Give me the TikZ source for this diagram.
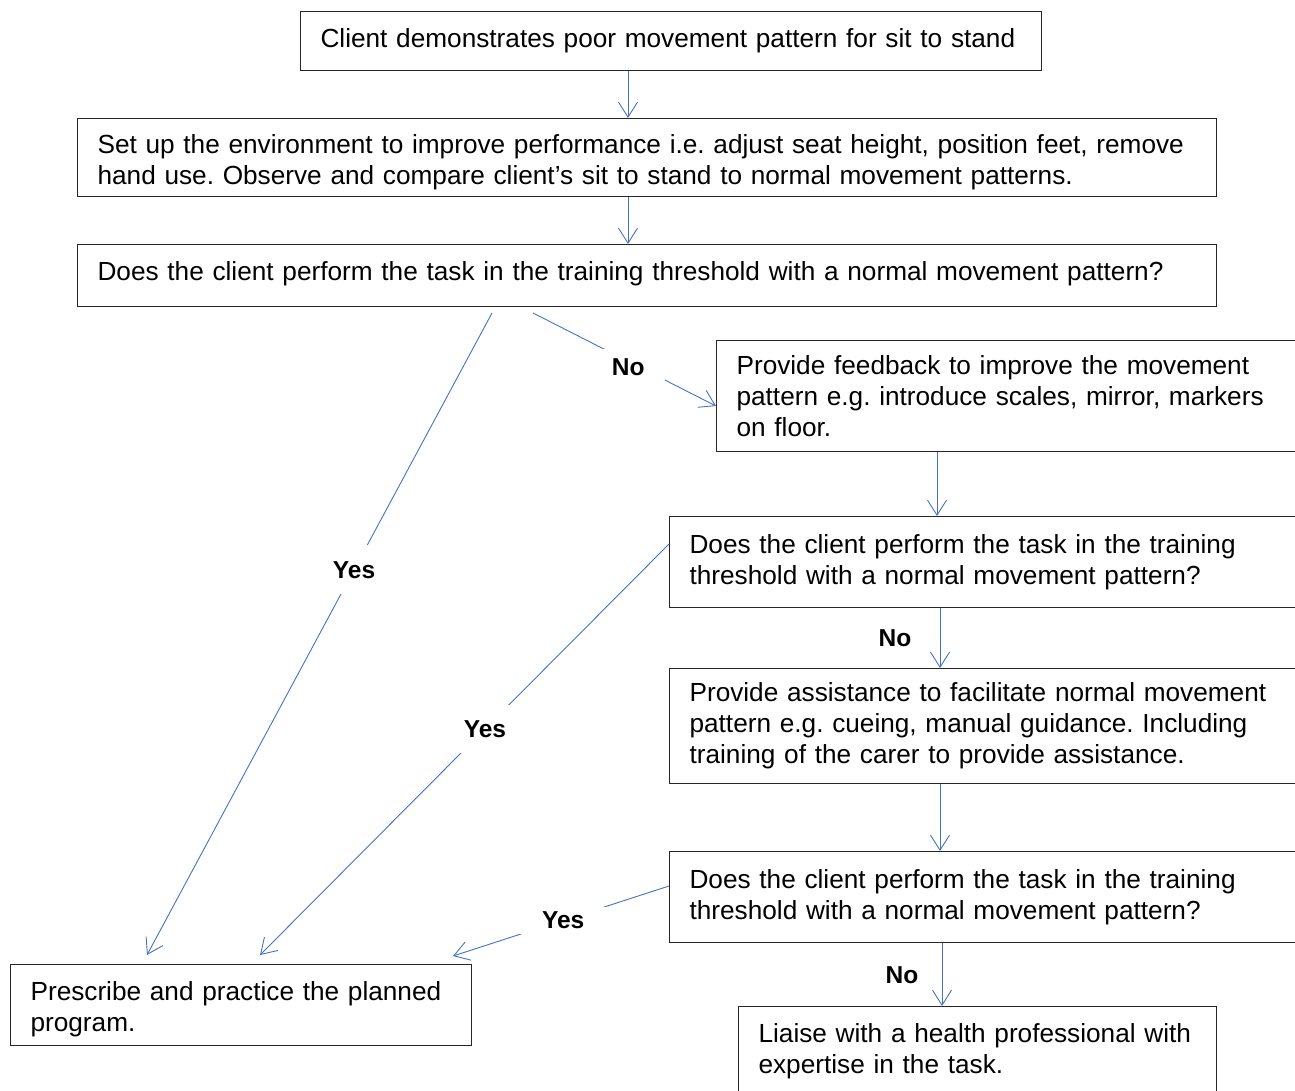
\documentclass[tikz,border=0pt]{standalone}
\usepackage{fontspec}
\setmainfont{Liberation Sans}
\usetikzlibrary{arrows.meta}
\definecolor{linkblue}{RGB}{68,114,196}
\frenchspacing
\begin{document}
\begin{tikzpicture}[x=1pt,y=-1pt,
  box/.style={draw=black!85, line width=1.1pt, anchor=north west, align=left,
    inner xsep=20pt, inner ysep=0pt, font=\fontsize{26.2}{31}\selectfont\frenchspacing},
  conn/.style={draw=linkblue, line width=0.9pt,
    -{Straight Barb[length=15pt,width=19pt,line width=0.9pt]}},
  lab/.style={font=\fontsize{24.5}{31}\selectfont\bfseries, fill=white, text=black}]
\useasboundingbox (0,0) rectangle (1295,1090);
\clip (0,0) rectangle (1295,1090);

\node[box, text width=701pt, minimum height=59pt] (b1) at (300,11)
  {Client demonstrates poor movement pattern for sit to stand};
\node[box, text width=1099pt, minimum height=78pt] (b2) at (77,118)
  {\rule{0pt}{29pt}Set up the environment to improve performance i.e. adjust seat height, position feet, remove\\
   hand use. Observe and compare client’s sit to stand to normal movement patterns.};
\node[box, text width=1099pt, minimum height=62pt] (b3) at (77,244)
  {Does the client perform the task in the training threshold with a normal movement pattern?\rule[-9.5pt]{0pt}{1pt}};
\node[box, text width=580pt, minimum height=111pt] (b4) at (716,340)
  {Provide feedback to improve the movement\\pattern e.g. introduce scales, mirror, markers\\on floor.};
\node[box, text width=620pt, minimum height=91pt] (b5) at (669,516)
  {Does the client perform the task in the training\\threshold with a normal movement pattern?};
\node[box, text width=620pt, minimum height=115pt] (b6) at (669,668)
  {Provide assistance to facilitate normal movement\\pattern e.g. cueing, manual guidance. Including\\training of the carer to provide assistance.};
\node[box, text width=620pt, minimum height=91pt] (b7) at (669,851)
  {Does the client perform the task in the training\\threshold with a normal movement pattern?};
\node[box, text width=438pt, minimum height=85pt] (b8) at (738,1006)
  {\rule{0pt}{23pt}Liaise with a health professional with\\expertise in the task.};
\node[box, text width=421pt, minimum height=81pt] (b9) at (10,964)
  {\rule{0pt}{27pt}Prescribe and practice the planned\\program.};

% helper coordinates
\coordinate (x1) at (628,0);
\coordinate (x4) at (937,0);
\coordinate (x5) at (940,0);
\coordinate (x7) at (942,0);
\coordinate (sNo) at (533,313);
\coordinate (eNo) at (716,406);
\coordinate (sYes1) at (492,313);
\coordinate (eYes1) at (147,955);
\coordinate (sYes2) at (669,544);
\coordinate (eYes2) at (260,955);
\coordinate (sYes3) at (669,886);
\coordinate (eYes3) at (453,956);

% vertical connectors
\draw[conn] (b1.south -| x1) -- (b2.north -| x1);
\draw[conn] (b2.south -| x1) -- (b3.north -| x1);
\draw[conn] (b4.south -| x4) -- (b5.north -| x4);
\draw[conn] (b5.south -| x5) -- (b6.north -| x5);
\draw[conn] (b6.south -| x5) -- (b7.north -| x5);
\draw[conn] (b7.south -| x7) -- (b8.north -| x7);

% diagonal connectors with labels
\draw[conn] (sNo) -- node[lab, pos=0.52, inner xsep=21pt, inner ysep=10pt, yshift=-6pt] (lNo1) {No} (eNo);
\draw[conn] (sYes1) -- node[lab, pos=0.4, inner xsep=4pt, inner ysep=16pt] (lYes1) {Yes} (eYes1);
\draw[conn] (sYes2) -- node[lab, pos=0.45, inner xsep=15pt, inner ysep=15pt] (lYes2) {Yes} (eYes2);
\draw[conn] (sYes3) -- node[lab, pos=0.49, inner xsep=23pt, inner ysep=5pt] (lYes3) {Yes} (eYes3);

% side labels
\node[lab, fill=none] (lNo2) at (895,638) {No};
\node[lab, fill=none] (lNo3) at (902,975) {No};
\end{tikzpicture}
\end{document}
